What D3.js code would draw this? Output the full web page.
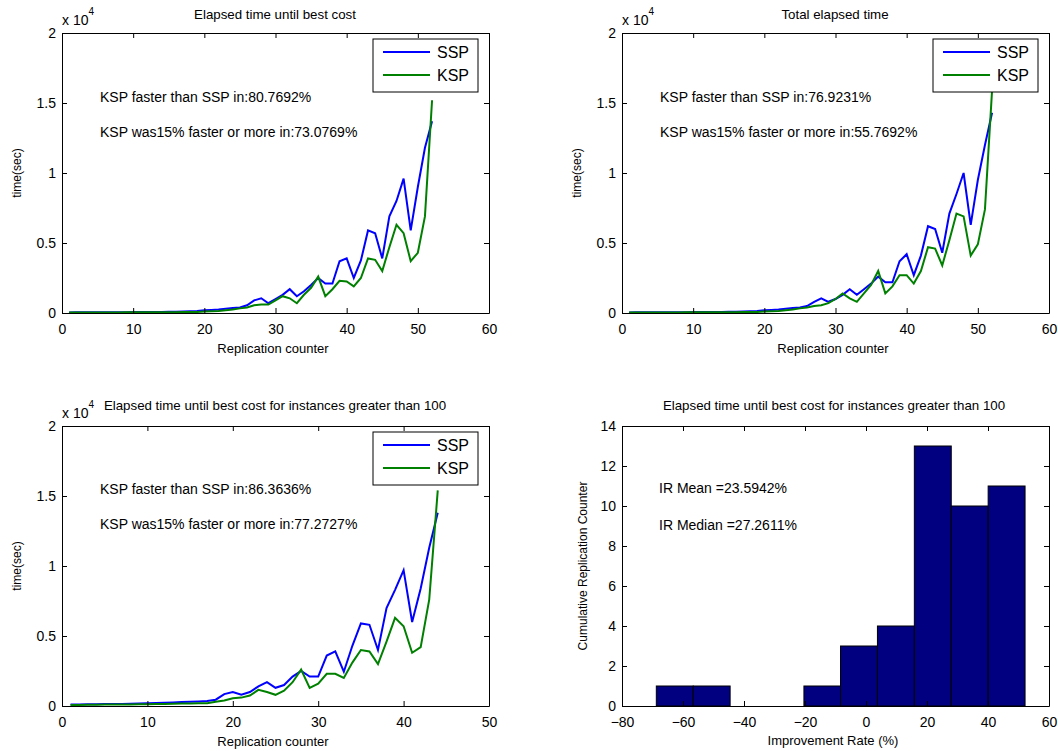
<!DOCTYPE html>
<html>
<head>
<meta charset="utf-8">
<script src="https://cdn.jsdelivr.net/npm/d3@7"></script>
<style>
body { margin: 0; background: #fff; }
text { font-family: "Liberation Sans", Arial, sans-serif; fill: #000; }
</style>
</head>
<body>
<svg id="fig" width="1058" height="751"></svg>
<script>
// elapsed time (sec), one value per replication counter 1..52
var bestSSP = [40,45,45,50,50,55,55,60,60,65, 65,70,75,80,85,90,100,120,150,200,
  220,250,300,350,400,550,900,1050,700,1000, 1300,1700,1200,1550,2000,2500,2100,2100,3700,3900,
  2500,3750,5900,5700,3900,6900,8000,9600,5900,9000, 11800,13700];
var bestKSP = [30,30,35,35,35,40,40,40,45,45, 50,50,55,55,60,60,65,70,80,100,
  120,150,200,250,330,400,550,600,600,900, 1200,1050,700,1300,1800,2600,1200,1700,2300,2250,
  1900,2500,3900,3800,3000,4700,6300,5700,3700,4300, 6900,15200];

var totalSSP = [40,45,45,50,50,55,55,60,60,65, 65,70,75,80,85,90,100,120,150,200,
  220,250,300,350,400,500,800,1050,800,1000, 1300,1700,1300,1700,2100,2600,2200,2200,3700,4200,
  2700,4100,6200,6000,4300,7100,8500,10000,6300,9500, 12000,14300];
var totalKSP = [30,30,35,35,35,40,40,40,45,45, 50,50,55,55,60,60,65,70,80,100,
  120,150,200,250,330,400,500,550,700,1000, 1400,1050,800,1400,2000,3000,1400,1900,2700,2700,
  2100,3000,4700,4600,3400,5200,7100,6900,4100,4900, 7400,15900];

// instances greater than 100, replication counter 1..44
var bigSSP = [100,110,120,130,140,150,150,160,180,200, 220,230,250,280,300,320,350,450,850,1000,
  800,1000,1400,1700,1300,1500,2100,2500,2100,2100, 3600,3900,2450,4300,5900,5800,4000,7000,8300,9700,
  6000,8400,11300,13800];
var bigKSP = [80,80,90,90,100,100,110,110,120,130, 140,150,160,170,180,190,200,300,400,550,
  600,750,1150,1000,800,1100,1700,2600,1300,1600, 2300,2300,2000,3100,4000,3900,3000,4600,6300,5700,
  3800,4200,7600,15400];

// improvement rate histogram
var irCenters = [-62.7,-50.6,-38.5,-26.4,-14.3,-2.3,9.8,21.9,34.0,46.1];
var irCounts  = [1,1,0,0,1,3,4,13,10,11];

var timeTicks = [0,5000,10000,15000,20000];
var irXTicks = [-80,-60,-40,-20,0,20,40,60];
var irYTicks = [0,2,4,6,8,10,12,14];

var svg = d3.select('#fig');

function frame(g, x, y, xTicks, yTicks, yFmt) {
  var x0 = x.range()[0], x1 = x.range()[1];
  var y0 = y.range()[0], y1 = y.range()[1];

  g.append('g')
    .attr('transform', 'translate(0,' + y0 + ')')
    .call(d3.axisBottom(x).tickValues(xTicks).tickSizeInner(-5).tickSizeOuter(0).tickPadding(11))
    .call(function(a){ a.selectAll('text').style('font-size','14px'); });
  g.append('g')
    .attr('transform', 'translate(0,' + y1 + ')')
    .call(d3.axisTop(x).tickValues(xTicks).tickSizeInner(-5).tickSizeOuter(0).tickFormat(''));
  g.append('g')
    .attr('transform', 'translate(' + x0 + ',0)')
    .call(d3.axisLeft(y).tickValues(yTicks).tickSizeInner(-5).tickSizeOuter(0).tickPadding(6).tickFormat(yFmt))
    .call(function(a){ a.selectAll('text').style('font-size','14px'); });
  g.append('g')
    .attr('transform', 'translate(' + x1 + ',0)')
    .call(d3.axisRight(y).tickValues(yTicks).tickSizeInner(-5).tickSizeOuter(0).tickFormat(''));

  g.selectAll('.domain').attr('stroke', '#000');
  g.selectAll('.tick line').attr('stroke', '#000');
  g.selectAll('.tick text').attr('fill', '#000').style('font-family', '"Liberation Sans", Arial, sans-serif');
}

function linePanel(o) {
  var g = svg.append('g');
  var x = d3.scaleLinear().domain([0, o.xMax]).range([o.left, o.left + 427]);
  var y = d3.scaleLinear().domain([0, 20000]).range([o.top + 280, o.top]);

  var line = d3.line()
    .x(function(d, i){ return x(i + 1); })
    .y(function(d){ return y(d); });

  g.append('path').datum(o.ssp).attr('d', line)
    .attr('fill', 'none').attr('stroke', '#0000ff').attr('stroke-width', 2);
  g.append('path').datum(o.ksp).attr('d', line)
    .attr('fill', 'none').attr('stroke', '#008000').attr('stroke-width', 2);

  frame(g, x, y, d3.range(0, o.xMax + 1, 10), timeTicks, function(d){ return +(d / 1e4).toFixed(1); });

  // exponent
  var ex = g.append('text').attr('x', o.left).attr('y', o.top - 8).style('font-size', '14px');
  ex.append('tspan').text('x 10');
  ex.append('tspan').attr('dy', -10).style('font-size', '10px').text('4');

  g.append('text')
    .attr('x', o.left + 213).attr('y', o.top - o.titleGap)
    .attr('text-anchor', 'middle').style('font-size', '13.3px')
    .text(o.title);

  g.append('text')
    .attr('x', o.left + 211).attr('y', o.top + 320)
    .attr('text-anchor', 'middle').style('font-size', '13px')
    .text('Replication counter');

  g.append('text')
    .attr('transform', 'translate(' + (o.left - 41) + ',' + (o.top + 140) + ') rotate(-90)')
    .attr('text-anchor', 'middle').style('font-size', '12px')
    .text('time(sec)');

  g.append('text').attr('x', o.left + 38).attr('y', o.top + o.noteY)
    .style('font-size', '14px').text(o.note1);
  g.append('text').attr('x', o.left + 38).attr('y', o.top + o.noteY + 35)
    .style('font-size', '14px').text(o.note2);

  // legend
  var lg = g.append('g').attr('transform', 'translate(' + (o.left + 311) + ',' + (o.top + 6) + ')');
  lg.append('rect').attr('width', 105).attr('height', 53)
    .attr('fill', '#fff').attr('stroke', '#000');
  [['SSP', '#0000ff', 13], ['KSP', '#008000', 36]].forEach(function(s){
    lg.append('line').attr('x1', 10).attr('x2', 57).attr('y1', s[2]).attr('y2', s[2])
      .attr('stroke', s[1]).attr('stroke-width', 2);
    lg.append('text').attr('x', 64).attr('y', s[2] + 6).style('font-size', '16px').text(s[0]);
  });
}

linePanel({left: 62, top: 33, xMax: 60, title: 'Elapsed time until best cost', titleGap: 14,
  ssp: bestSSP, ksp: bestKSP, noteY: 69,
  note1: 'KSP faster than SSP in:80.7692%', note2: 'KSP was15% faster or more in:73.0769%'});

linePanel({left: 622, top: 33, xMax: 60, title: 'Total elapsed time', titleGap: 14,
  ssp: totalSSP, ksp: totalKSP, noteY: 69,
  note1: 'KSP faster than SSP in:76.9231%', note2: 'KSP was15% faster or more in:55.7692%'});

linePanel({left: 62, top: 426, xMax: 50, title: 'Elapsed time until best cost for instances greater than 100', titleGap: 16,
  ssp: bigSSP, ksp: bigKSP, noteY: 68,
  note1: 'KSP faster than SSP in:86.3636%', note2: 'KSP was15% faster or more in:77.2727%'});

// histogram panel
(function(){
  var g = svg.append('g');
  var x = d3.scaleLinear().domain([-80, 60]).range([622, 1049]);
  var y = d3.scaleLinear().domain([0, 14]).range([706, 426]);
  var bw = irCenters[1] - irCenters[0];

  g.selectAll('rect.bar')
    .data(irCenters.map(function(c, i){ return {c: c, n: irCounts[i]}; }).filter(function(d){ return d.n > 0; }))
    .enter().append('rect')
    .attr('class', 'bar')
    .attr('x', function(d){ return x(d.c - bw / 2); })
    .attr('width', function(d){ return x(d.c + bw / 2) - x(d.c - bw / 2); })
    .attr('y', function(d){ return y(d.n); })
    .attr('height', function(d){ return y(0) - y(d.n); })
    .attr('fill', '#000080').attr('stroke', '#000');

  frame(g, x, y, irXTicks, irYTicks, function(d){ return d; });

  g.append('text').attr('x', 834).attr('y', 410)
    .attr('text-anchor', 'middle').style('font-size', '13.3px')
    .text('Elapsed time until best cost for instances greater than 100');
  g.append('text').attr('x', 833).attr('y', 745)
    .attr('text-anchor', 'middle').style('font-size', '13px')
    .text('Improvement Rate (%)');
  g.append('text')
    .attr('transform', 'translate(587,566) rotate(-90)')
    .attr('text-anchor', 'middle').style('font-size', '12px')
    .text('Cumulative Replication Counter');
  g.append('text').attr('x', 659).attr('y', 493).style('font-size', '14px').text('IR Mean =23.5942%');
  g.append('text').attr('x', 659).attr('y', 530).style('font-size', '14px').text('IR Median =27.2611%');
})();
</script>
</body>
</html>
